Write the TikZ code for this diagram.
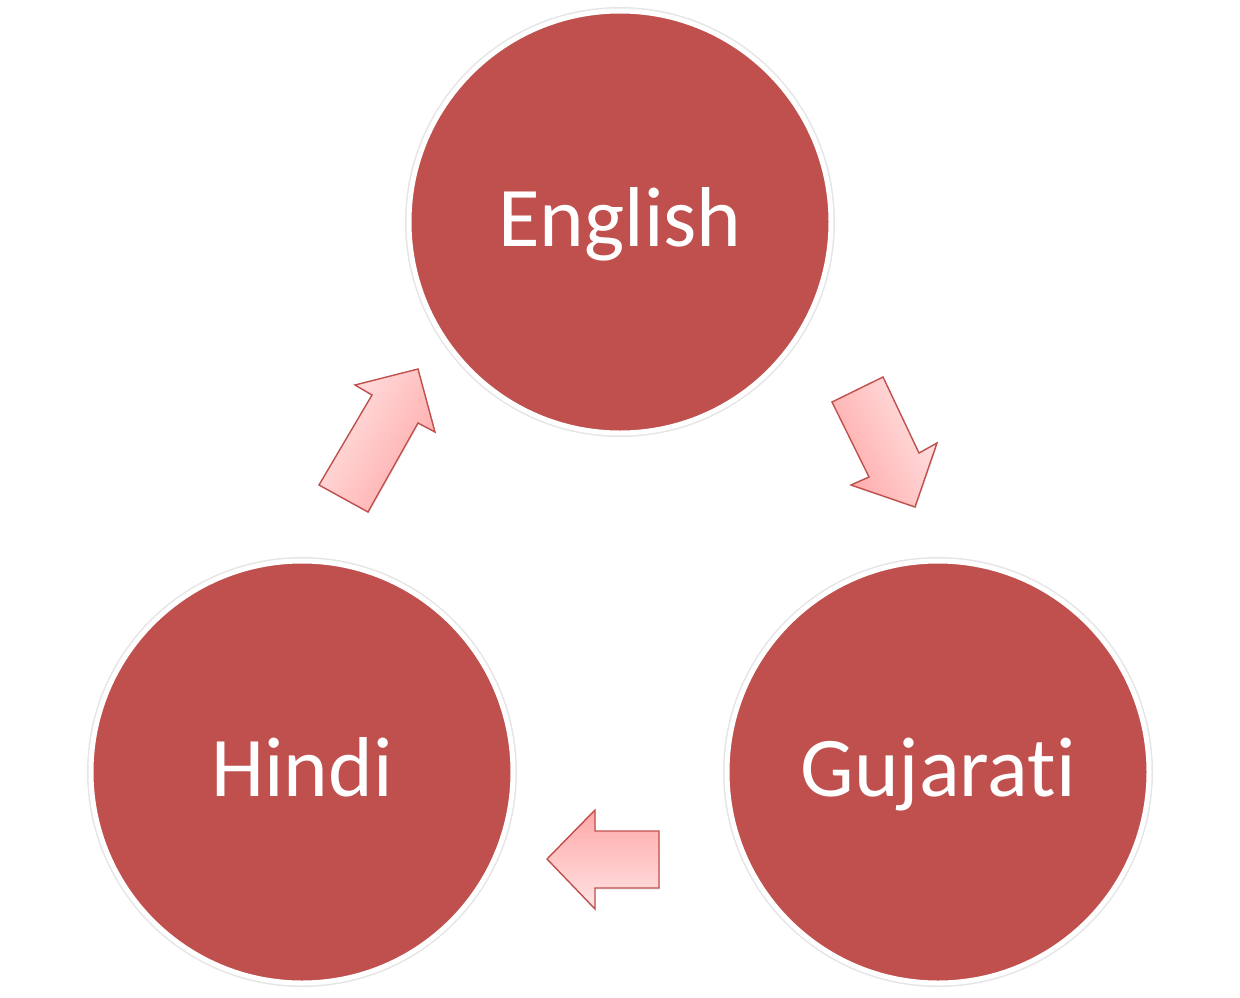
\documentclass[tikz,border=0pt]{standalone}
\usepackage{fontspec}
\setmainfont{Carlito}[Ligatures={NoCommon,NoRare,NoDiscretionary}]
\usetikzlibrary{positioning, shadows}
\definecolor{langred}{HTML}{C0504D}
\definecolor{pinklight}{HTML}{FFE4E4}
\definecolor{pinkdark}{HTML}{FFA8A8}

\begin{document}
\begin{tikzpicture}[x=1pt,y=-1pt]
\tikzstyle{lang}=[circle,fill=langred,draw=white,line width=5pt,inner sep=0pt,minimum size=422pt,text=white,font=\fontsize{85}{100}\selectfont,text height=66pt,text depth=18pt,preaction={draw=black!10,line width=8pt}]
\tikzstyle{flow}=[draw=langred,line width=1.4pt,line join=miter,top color=pinklight,bottom color=pinkdark,drop shadow={opacity=0.15,shadow xshift=1pt,shadow yshift=-1.5pt}]
\useasboundingbox (0,0) rectangle (1240,997);
\node [lang] (english) at (620,222) {English};
\node [lang] (hindi) at (302,772) {Hindi};
\node [lang] (gujarati) at (938,772) {Gujarati};
% hindi -> english
\path [flow,shading angle=60] (319,485) -- (372,395) -- (355,385) -- (418,369) -- (435,432) -- (418,423) -- (368,512) -- cycle;
% english -> gujarati
\path [flow,shading angle=-64] (832,402) -- (883,377) -- (919,453) -- (937,443) -- (915,507) -- (851,485) -- (869,477) -- cycle;
% gujarati -> hindi
\path [flow,shading angle=180] (659,831) -- (595,831) -- (595,810) -- (547,859) -- (595,909) -- (595,888) -- (659,888) -- cycle;
\end{tikzpicture}
\end{document}
